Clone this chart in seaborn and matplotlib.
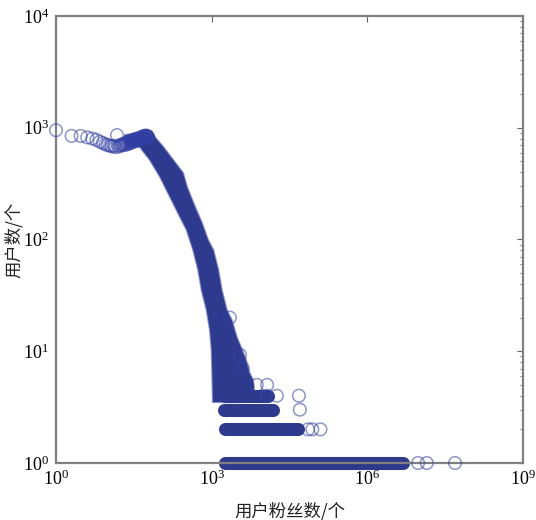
import numpy as np
import pandas as pd
import matplotlib
matplotlib.use("Agg")
import matplotlib.pyplot as plt
from matplotlib.ticker import LogLocator, NullLocator, NullFormatter
import seaborn as sns

# ---- data ----
# low follower counts: one point per follower count
low_x = list(range(1, 61))
low_y = [950, 845, 845, 820, 800, 780, 750, 730, 710, 700,
         690, 680, 690, 670, 860, 680, 700, 690, 710, 720,
         700, 730, 710, 740, 720, 750, 730, 760, 740, 770,
         750, 780, 760, 790, 770, 800, 780, 790, 800, 780,
         810, 790, 820, 800, 810, 830, 800, 820, 840, 810,
         830, 850, 820, 840, 830, 850, 820, 840, 830, 810]

# outline of the dense (saturated) region of the curve
blob_x = [21.4, 38.0, 56.7, 74.0, 115, 180, 280, 334, 477, 650, 849, 1074, 1340,
          1560, 1945, 2430, 3030, 3835, 4580, 5235, 6250, 6530, 5000, 3510,
          1059, 1036, 1000, 927, 801, 642, 552, 442, 330, 245, 157, 101, 64.7,
          41.5, 21.4]
blob_y = [860, 900, 906, 861, 677, 515, 394, 295, 195, 140, 99, 80.5, 53.3,
          35.3, 23.4, 19.0, 13.4, 10.3, 8.35, 6.52, 5.53, 4.59, 3.82, 3.51,
          3.51, 5.53, 10.3, 15.5, 23.4, 35.3, 53.3, 80.5, 122, 160, 242, 365, 515,
          673, 680]

# saturated horizontal runs at small user counts
band_y = [1, 2, 3, 4, 5]
band_x_start = [1800, 1800, 1750, 1800, 1800]
band_x_end = [4.9e6, 4.7e4, 1.55e4, 1.24e4, 4.8e3]

# isolated points
sparse_x = [9.5e6, 1.4e7, 4.9e7, 7.2e4, 8.7e4, 1.25e5, 5.0e4, 1.15e4, 1.8e4,
            4.8e4, 7.4e3, 1.17e4, 2240, 3510, 4000]
sparse_y = [1, 1, 1, 2, 2, 2, 3, 4, 4, 4, 5, 5, 20, 9.3, 7]

xticks = [1, 1e3, 1e6, 1e9]
yticks = [1, 10, 100, 1000, 10000]
xlabel = "用户粉丝数/个"
ylabel = "用户数/个"

# ---- styling ----
sns.set_theme(style="white")
plt.rcParams["font.family"] = ["Liberation Serif", "DejaVu Serif"]
plt.rcParams["mathtext.fontset"] = "stix"

navy = "#2d3a8e"
light = (0.20, 0.25, 0.64, 0.55)

fig = plt.figure(figsize=(5.36, 5.2), dpi=100)
ax = fig.add_axes([56 / 536, 57 / 520, 467 / 536, 447 / 520])
ax.set_xscale("log")
ax.set_yscale("log")

# dense region
ax.fill(blob_x, blob_y, facecolor=navy, edgecolor=light, linewidth=1.5,
        zorder=2, clip_on=False)

# horizontal saturated runs
for yv, xs, xe in zip(band_y, band_x_start, band_x_end):
    sns.lineplot(x=[xs, xe], y=[yv, yv], ax=ax, color=navy, linewidth=9.4,
                 solid_capstyle="round", zorder=2, clip_on=False,
                 estimator=None, sort=False)

# individual circles
df_low = pd.DataFrame({"x": low_x, "y": low_y})
df_sp = pd.DataFrame({"x": sparse_x, "y": sparse_y})
for d in (df_low, df_sp):
    sns.scatterplot(data=d, x="x", y="y", ax=ax, s=82, facecolors="none",
                    edgecolor=light, linewidth=1.1, marker="o", zorder=3,
                    clip_on=False, legend=False)

ax.set_xlim(1, 1e9)
ax.set_ylim(1, 1e4)
ax.set_xticks(xticks)
ax.set_yticks(yticks)
ax.xaxis.set_minor_locator(NullLocator())
ax.yaxis.set_minor_locator(LogLocator(base=10, subs=np.arange(2, 10)))
ax.yaxis.set_minor_formatter(NullFormatter())

for sp in ax.spines.values():
    sp.set_color("#808080")
    sp.set_linewidth(1.6)
    sp.set_visible(True)

ax.tick_params(which="both", direction="in", top=True, right=True,
               color="#666666", labelcolor="black")
ax.tick_params(which="major", length=4, width=0.8, labelsize=13, pad=5)
ax.tick_params(which="minor", length=2, width=0.6)
ax.grid(False)

ax.set_xlabel(xlabel, family=["Noto Sans CJK SC", "DejaVu Sans"], fontsize=12.5,
              labelpad=9, color="#222222")
ax.set_ylabel(ylabel, family=["Noto Sans CJK SC", "DejaVu Sans"], fontsize=12.5,
              labelpad=0, color="#222222")

fig.savefig("out.png", dpi=100)
